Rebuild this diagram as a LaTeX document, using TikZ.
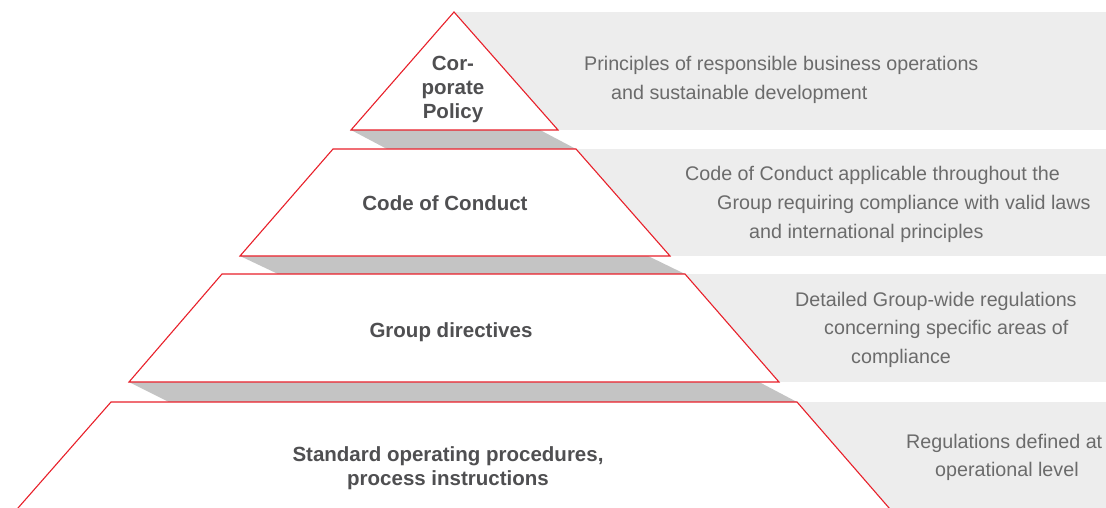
\documentclass[tikz,border=0pt]{standalone}
\usepackage{fontspec}
\setmainfont{Liberation Sans}
\definecolor{pyrred}{HTML}{E8202A}
\definecolor{bandgray}{HTML}{EDEDED}
\definecolor{shadegray}{HTML}{C4C4C4}
\definecolor{labelgray}{HTML}{4F4F51}
\definecolor{descgray}{HTML}{6B6B6B}
\tikzset{
  layer/.style={draw=pyrred,fill=white,line width=1.1pt,line join=miter},
  band/.style={fill=bandgray},
  shade/.style={fill=shadegray},
  label/.style={text=labelgray,font=\fontsize{20.5}{24}\selectfont\bfseries,align=center,inner sep=0pt},
  desc/.style={text=descgray,font=\fontsize{19.7}{28.5}\selectfont,anchor=base west,inner sep=0pt}
}
\begin{document}
\begin{tikzpicture}[x=1pt,y=-1pt]
      \useasboundingbox (0,0) rectangle (1106,508);
      % grey bands behind the levels
      \fill[band] (455,12) rectangle (1106,130);
      \fill[band] (500,149) rectangle (1106,256);
      \fill[band] (500,274) rectangle (1106,382);
      \fill[band] (500,402) rectangle (1106,508);
      % shadows under each level
      \fill[shade] (351,130) -- (387,149) -- (576,149) -- (540,130) -- cycle;
      \fill[shade] (240,256) -- (278,274) -- (685,274) -- (648,256) -- cycle;
      \fill[shade] (129,382) -- (169,402) -- (797,402) -- (759,382) -- cycle;
      % the four levels (the lowest one runs off the page)
      \draw[layer] (454,12) -- (558,130) -- (351,130) -- cycle;
      \draw[layer] (333,149) -- (576,149) -- (670,256) -- (240,256) -- cycle;
      \draw[layer] (222,274) -- (685,274) -- (779,382) -- (129,382) -- cycle;
      \draw[layer] (111,402) -- (797,402) -- (899.5,520) -- (7.5,520) -- cycle;
      % level names
      \node[label] (policy) at (453,89) {Cor-\\porate\\Policy};
      \node[label,anchor=base] (conduct) at (445,210) {Code of Conduct};
      \node[label,anchor=base] (directives) at (451,337) {Group directives};
      \node[label,anchor=base] (sop) at (448,485) {Standard operating procedures,\\process instructions};
      % descriptions
      \node[desc] (policy1) at (584,71) {Principles of responsible business operations};
      \node[desc] (policy2) at (611,99.5) {and sustainable development};
      \node[desc] (conduct1) at (685,181) {Code of Conduct applicable throughout the};
      \node[desc] (conduct2) at (717,209.5) {Group requiring compliance with valid laws};
      \node[desc] (conduct3) at (749,238) {and international principles};
      \node[desc] (directives1) at (795,306) {Detailed Group-wide regulations};
      \node[desc] (directives2) at (824,334.5) {concerning specific areas of};
      \node[desc] (directives3) at (851,363) {compliance};
      \node[desc] (sop1) at (906,448) {Regulations defined at};
      \node[desc] (sop2) at (935,476.5) {operational level};
    \end{tikzpicture}
\end{document}
